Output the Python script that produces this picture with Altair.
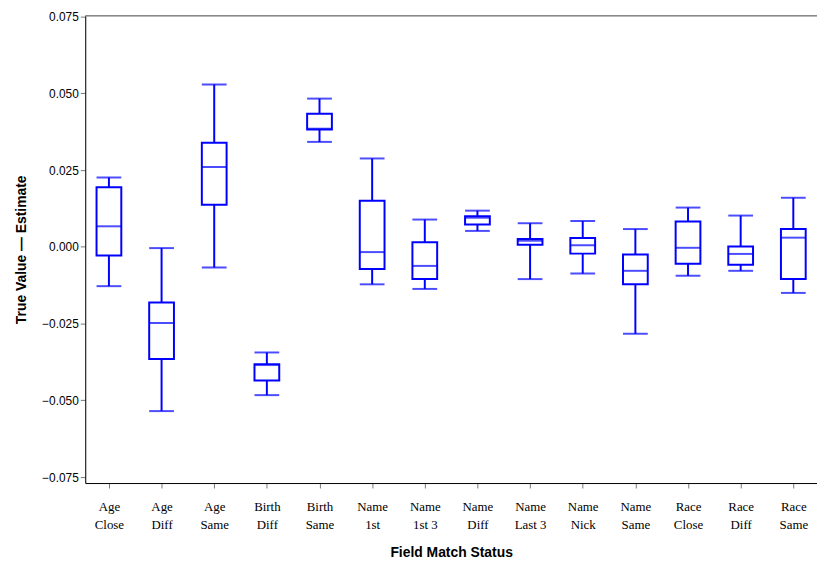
import altair as alt
import pandas as pd

categories = ["Age Close", "Age Diff", "Age Same", "Birth Diff", "Birth Same",
              "Name 1st", "Name 1st 3", "Name Diff", "Name Last 3", "Name Nick",
              "Name Same", "Race Close", "Race Diff", "Race Same"]
whisker_low = [-0.0128, -0.0535, -0.0067, -0.0483, 0.0342, -0.0122, -0.0137,
               0.0052, -0.0105, -0.0087, -0.0283, -0.0094, -0.0078, -0.0150]
q1 = [-0.0028, -0.0365, 0.0137, -0.0435, 0.0382, -0.0072, -0.0105,
      0.0073, 0.0007, -0.0022, -0.0122, -0.0055, -0.0058, -0.0105]
median = [0.0067, -0.0248, 0.0260, -0.0385, 0.0385, -0.0017, -0.0062,
          0.0095, 0.0020, 0.0005, -0.0078, -0.0003, -0.0023, 0.0030]
q3 = [0.0194, -0.0181, 0.0339, -0.0382, 0.0434, 0.0150, 0.0015,
      0.0100, 0.0026, 0.0029, -0.0025, 0.0083, 0.0001, 0.0058]
whisker_high = [0.0226, -0.0004, 0.0529, -0.0344, 0.0483, 0.0288, 0.0089,
                0.0118, 0.0077, 0.0084, 0.0058, 0.0128, 0.0102, 0.0160]
y_ticks = [-0.075, -0.05, -0.025, 0.0, 0.025, 0.05, 0.075]

df = pd.DataFrame({"cat": categories, "lo": whisker_low, "q1": q1,
                   "med": median, "q3": q3, "hi": whisker_high})

BLUE = "#0000ff"
W, H = 739, 472

x = alt.X("cat:N", sort=categories, title="Field Match Status",
          scale=alt.Scale(type="point", padding=0.45),
          axis=alt.Axis(labelAngle=0, labelFont="Liberation Serif", labelFontSize=13,
                        labelLineHeight=18, labelColor="black",
                        labelExpr="[substring(datum.label, 0, indexof(datum.label, ' ')), substring(datum.label, indexof(datum.label, ' ') + 1)]",
                        tickColor="#777", tickSize=5, domainColor="black",
                        labelPadding=13, titleFont="Liberation Sans", titleFontSize=14,
                        titleFontWeight="bold", titlePadding=14, titleColor="black"))
yscale = alt.Scale(domain=[-0.07694, 0.07532], nice=False, zero=False)
yaxis = alt.Axis(values=y_ticks, format=".3f", labelFont="Liberation Sans",
                 labelFontSize=12, labelColor="black", tickColor="#777", tickSize=5,
                 domainColor="black", grid=False, titleFont="Liberation Sans",
                 titleFontSize=14, titleFontWeight="bold", titleColor="black",
                 titlePadding=13)

base = alt.Chart(df)
whisk = base.mark_rule(color=BLUE, strokeWidth=2).encode(
    x=x, y=alt.Y("lo:Q", scale=yscale, axis=yaxis, title="True Value  \u2014 Estimate"),
    y2="hi:Q")
box = base.mark_bar(fill="white", stroke=BLUE, strokeWidth=2, size=25).encode(
    x=x, y=alt.Y("q1:Q", scale=yscale), y2="q3:Q")
med = base.mark_tick(color=BLUE, thickness=2, size=25).encode(
    x=x, y=alt.Y("med:Q", scale=yscale))
cap_lo = base.mark_tick(color=BLUE, thickness=2, size=25).encode(
    x=x, y=alt.Y("lo:Q", scale=yscale))
cap_hi = base.mark_tick(color=BLUE, thickness=2, size=25).encode(
    x=x, y=alt.Y("hi:Q", scale=yscale))
frame_top = alt.Chart(pd.DataFrame({"a": [0]})).mark_rule(
    color="#888", strokeWidth=1.5).encode(
    x=alt.value(0), x2=alt.value(W), y=alt.value(0))

chart = alt.layer(whisk, box, med, cap_lo, cap_hi, frame_top).properties(
    width=W, height=H,
    autosize=alt.AutoSizeParams(type="none"),
    padding={"left": 78, "top": 5, "right": 0, "bottom": 78},
).configure_view(stroke=None).configure(background="white")

chart.save("out.html", embed_options={"renderer": "svg", "actions": False})
